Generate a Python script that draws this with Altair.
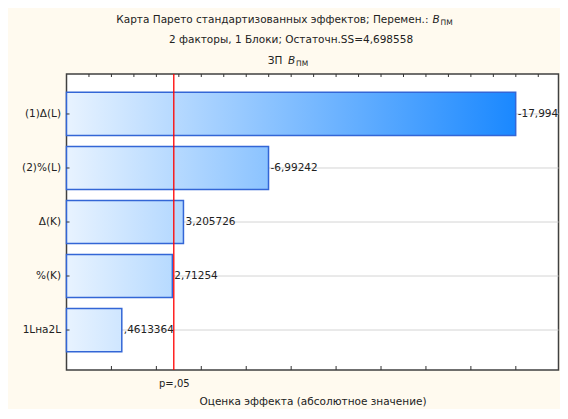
import altair as alt
import pandas as pd

# ---- data ----
factors = ["(1)Δ(L)", "(2)%(L)", "Δ(K)", "%(K)", "1Lна2L"]
effects = [-17.994, -6.99242, 3.205726, 2.71254, 0.4613364]
effect_labels = ["-17,994", "-6,99242", "3,205726", "2,71254", ",4613364"]
p_crit = 2.776
p_label = "p=,05"
x_min, x_max = -2, 19.9
major_ticks = [0, 2, 4, 6, 8, 10, 12, 14, 16, 18]
minor_ticks = list(range(-1, 20))

title1 = "Карта Парето стандартизованных эффектов; Перемен.:"
title2 = "2 факторы, 1 Блоки; Остаточн.SS=4,698558"
title3 = "ЗП"
var_main = "B"
var_sub = "ПМ"

FONT = "DejaVu Sans"
TXT = "#222222"
W, H = 492, 296

df = pd.DataFrame({
    "factor": factors,
    "effect": effects,
    "abs": [abs(e) for e in effects],
    "label": effect_labels,
})
df["lo"] = x_min
df["hi"] = x_max

xscale = alt.Scale(domain=[x_min, x_max], nice=False, zero=False)
yscale = alt.Scale(domain=factors, paddingInner=0.2, paddingOuter=0.34)
xaxis = alt.Axis(values=[p_crit], labelExpr=f"'{p_label}'",
                 title="Оценка эффекта (абсолютное значение)",
                 grid=False, domain=False, ticks=False, labelPadding=8, titlePadding=8,
                 labelFont=FONT, titleFont=FONT, labelFontSize=10, titleFontSize=10.5,
                 titleFontWeight="normal", labelColor=TXT, titleColor=TXT)
yaxis = alt.Axis(title=None, grid=False, domain=False, ticks=False, labelPadding=6,
                 labelFont=FONT, labelFontSize=10.5, labelColor=TXT)

def X(field):
    return alt.X(field, type="quantitative", scale=xscale, axis=xaxis)

def Y():
    return alt.Y("factor:N", scale=yscale, axis=yaxis, sort=factors)

base = alt.Chart(df)

grid = base.mark_rule(color="#d4d4d4", strokeWidth=1).encode(
    y=Y(), x=X("lo"), x2="hi")

light = (232, 243, 255)
dark = (26, 136, 255)
span = max(abs(e) for e in effects) - x_min

def mix(t):
    c = [round(a + (b - a) * t) for a, b in zip(light, dark)]
    return "#%02x%02x%02x" % tuple(c)

bars = []
for f, e in zip(factors, effects):
    t = (abs(e) - x_min) / span
    grad = alt.Gradient(gradient="linear", x1=0, x2=1, y1=0, y2=0,
                        stops=[alt.GradientStop(color=mix(0), offset=0),
                               alt.GradientStop(color=mix(t), offset=1)])
    bars.append(base.transform_filter(alt.datum.factor == f).mark_bar(
        color=grad, stroke="#3366d6", strokeWidth=1.5).encode(
        y=Y(), x=X("lo"), x2="abs"))

labels = base.mark_text(align="left", baseline="middle", dx=2, font=FONT,
                        fontSize=10.5, color=TXT).encode(
    y=Y(), x=X("abs"), text="label")

pdf = pd.DataFrame({"p": [p_crit]})
pline = alt.Chart(pdf).mark_rule(color="#ff0000", strokeWidth=1.3).encode(x=X("p"))

left_ticks = base.mark_rule(color="#333333").encode(
    y=Y(), x=alt.value(0), x2=alt.value(3))

tdf_major = pd.DataFrame({"t": major_ticks})
tdf_minor = pd.DataFrame({"t": minor_ticks})
bottom_ticks = alt.Chart(tdf_major).mark_rule(color="#333333").encode(
    x=X("t"), y=alt.value(H - 4), y2=alt.value(H))
top_ticks = alt.Chart(tdf_minor).mark_rule(color="#333333").encode(
    x=X("t"), y=alt.value(0), y2=alt.value(3))

one = pd.DataFrame({"a": [0]})

def txt(s, x, y, align="center", size=10.5, style="normal"):
    return alt.Chart(one).mark_text(text=s, align=align, baseline="middle",
                                    font=FONT, fontSize=size, fontStyle=style,
                                    color=TXT).encode(x=alt.value(x), y=alt.value(y))

titles = [
    txt(title1, 362, -54, align="right"),
    txt(var_main, 366, -54, align="left", style="italic"),
    txt(var_sub, 374, -51, align="left", size=7.5),
    txt(title2, 224.5, -34),
    txt(title3, 216, -13, align="right"),
    txt(var_main, 221.5, -13, align="left", style="italic"),
    txt(var_sub, 229.5, -10, align="left", size=7.5),
]

chart = alt.layer(grid, *bars, labels, pline, left_ticks, bottom_ticks, top_ticks,
                  *titles).properties(
    width=W, height=H, autosize="none",
    padding={"left": 58.5, "top": 66, "right": 1.5, "bottom": 39},
    background="#fffaef",
).configure_view(fill="white", stroke="#404040", strokeWidth=1.5)

chart.save("out.html", embed_options={"renderer": "svg", "actions": False})
